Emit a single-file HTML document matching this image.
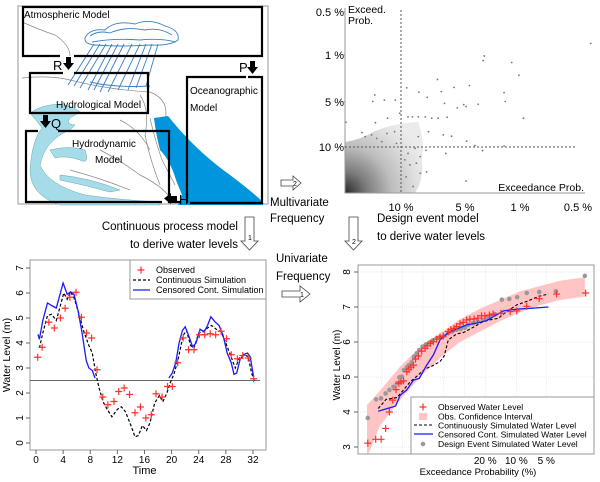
<!DOCTYPE html>
<html><head><meta charset="utf-8">
<style>
html,body{margin:0;padding:0;background:#fff;}
svg{display:block;font-family:"Liberation Sans",sans-serif;}
</style></head>
<body>
<svg id="fig" width="600" height="482" viewBox="0 0 600 482" xmlns="http://www.w3.org/2000/svg">
<defs>
<clipPath id="clipL"><rect x="30" y="260" width="236" height="190"/></clipPath>
<clipPath id="clipR"><rect x="358" y="265" width="236" height="189"/></clipPath>
<radialGradient id="dens" cx="345" cy="193" r="85" gradientUnits="userSpaceOnUse">
<stop offset="0" stop-color="#2a2a2a"/><stop offset="0.25" stop-color="#7a7a7a"/><stop offset="0.55" stop-color="#bdbdbd"/><stop offset="0.85" stop-color="#e0e0e0"/><stop offset="1" stop-color="#ebebeb"/>
</radialGradient>
</defs>

<!-- ===== Top-left model diagram ===== -->
<g>
<rect x="18" y="6" width="250" height="198" fill="#fff" stroke="#999" stroke-width="1"/>
<g fill="none" stroke="#888" stroke-width="0.7">
<path d="M22,22 Q40,30 55,35 Q70,45 70,56"/>
<path d="M22,78 Q50,75 70,80 Q110,90 150,92 Q170,100 165,120"/>
<path d="M140,95 Q150,110 145,135 Q150,160 160,185"/>
<path d="M150,118 Q155,140 162,160 Q170,175 175,185"/>
<path d="M100,150 Q120,160 140,175 Q160,185 168,195"/>
<path d="M120,120 Q140,130 150,150"/>
<path d="M70,170 Q100,178 130,190"/>
</g>
<path fill="#a6dcea" stroke="#6aa" stroke-width="0.5" d="M30,113 Q40,105 60,104 Q75,107 80,112 L70,118 Q65,124 75,125 L70,130 Q45,140 40,165 Q48,185 85,195 Q120,200 160,202 L160,205 L60,205 Q30,195 30,170 Q32,140 42,128 Q36,120 30,113 Z"/>
<path fill="#a6dcea" stroke="#6aa" stroke-width="0.5" d="M50,150 Q70,145 85,150 Q90,165 80,160 Q65,155 55,158 Z"/>
<path fill="#a6dcea" stroke="#6aa" stroke-width="0.5" d="M60,175 Q90,178 120,190 L110,192 Q85,185 60,180 Z"/>
<path fill="#0095dd" d="M154,118 L168,116 Q195,150 230,175 Q250,190 263,202 L263,205 L178,205 L182,195 L176,180 Q170,160 160,150 Q156,135 154,118 Z"/>
<g fill="none" stroke="#3b7fc4" stroke-width="0.9">
<path d="M85,38 Q90,28 105,30 Q115,20 135,24 Q150,18 165,26 Q180,30 178,40 Q170,46 150,45 Q120,47 95,45 Q84,44 85,38 Z"/>
<path d="M90,36 Q98,30 110,33 Q125,26 145,30 Q160,27 172,35"/>
<path d="M92,42 Q115,38 140,40 Q160,38 176,42"/>
<path d="M94,44 L68,85 M100,44 L74,86 M106,44 L80,88 M112,44 L88,90 M118,44 L94,90 M124,44 L100,92 M132,44 L108,92 M140,44 L118,90 M146,44 L128,90 M152,44 L136,88 M158,44 L146,86"/>
<path d="M90,82 Q115,88 150,86"/>
</g>
<g fill="none" stroke="#000" stroke-width="2.2">
<path d="M60,56 L23,56 L23,7 L262,7 L262,56 L74,56"/>
<path d="M63,73 L30,73 L30,113 L148,113 L148,73 L74,73"/>
<path d="M38,131 L26,131 L26,202 L162,202 M180,202 L169,202 L169,131 L58,131"/>
<path d="M248,77 L262,77 L262,203 L190,203 M187,203 L187,77 L246,77"/>
</g>
<g fill="#000">
<path d="M66,57 h5 v6 h3 l-5.5,7 l-5.5,-7 h3 z"/>
<path d="M250,61 h5 v6 h3 l-5.5,7 l-5.5,-7 h3 z"/>
<path d="M43,115 h5 v6 h3 l-5.5,7 l-5.5,-7 h3 z"/>
<path d="M177,196 v5 h-6 v3 l-7,-5.5 l7,-5.5 v3 z"/>
</g>
<g font-size="10" fill="#000">
<text x="24" y="18">Atmospheric Model</text>
<text x="53" y="70" font-size="13">R</text>
<text x="239" y="72" font-size="13">P</text>
<text x="56" y="108">Hydrological Model</text>
<text x="51" y="128" font-size="13">Q</text>
<text x="72" y="147">Hydrodynamic</text>
<text x="95" y="163">Model</text>
<text x="190" y="94">Oceanographic</text>
<text x="190" y="111">Model</text>
<text x="179" y="204" font-size="13">H</text>
</g>
</g>

<!-- ===== connecting text & hollow arrows ===== -->
<g font-size="11.5" fill="#000">
<text x="270" y="206">Multivariate</text>
<text x="270" y="222">Frequency</text>
<text x="238" y="230" text-anchor="end">Continuous process model</text>
<text x="238" y="248" text-anchor="end">to derive water levels</text>
<text x="377" y="222">Design event model</text>
<text x="377" y="240">to derive water levels</text>
<text x="276" y="262">Univariate</text>
<text x="276" y="280">Frequency</text>
<g fill="#fff" stroke="#444" stroke-width="0.8">
<path d="M281,180 h12 v-4 l8,7 l-8,7 v-4 h-12 z"/>
<path d="M245,217 h9 v24 h4 l-8.5,9 l-8.5,-9 h4 z"/>
<path d="M349,217 h9 v24 h4 l-8.5,9 l-8.5,-9 h4 z"/>
<path d="M282,291 h18 v-5 l10,8 l-10,8 v-5 h-18 z"/>
</g>
<g font-size="7" fill="#000"><text x="293" y="186">2</text><text x="248" y="240">1</text><text x="352" y="244">2</text><text x="300" y="297">1</text></g>
</g>

<!-- ===== scatter (top-right) ===== -->
<g id="scatter">
<path fill="url(#dens)" d="M345,142 Q360,140 375,131 Q395,123 418,122 Q425,140 422,160 Q424,180 415,193 L345,193 Z"/>
</g>

<!-- ===== time series (bottom-left) ===== -->
<g id="ts"></g>
<!-- ===== frequency curve (bottom-right) ===== -->
<g id="fc"></g>
</svg>

<script>
// ---------- scatter data (in tick-index units of exceedance scale) ----------
const scX=[3.22,1.35,1.33,1.85,1.98,0.57,1.08,0.09,0.83,0.63,0.28,0.41,1.71,1.73,-0.41,-0.26,-0.09,-0.44,0.68,0.88,0.98,1.24,1.02,0.11,-0.02,0.18,0.27,0.38,0.48,0.58,0.72,-0.21,-0.40,2.06,-0.61,-0.56,-0.46,-0.38,-0.30,-0.22,-0.10,-0.07,0.27,0.43,0.66,0.79,1.03,1.18,1.32,1.71,0.70,0.22,0.11,0.06,0.14,0.30,0.40,0.08,0.19,1.02,0.30,0.39,0.24,-0.86];
const scY=[2.27,1.98,1.88,1.84,1.57,1.48,1.35,1.30,1.31,1.22,1.21,1.10,1.20,1.01,1.15,1.04,1.04,1.01,0.97,0.87,0.94,0.95,0.90,0.67,0.75,0.67,0.67,0.67,0.64,0.64,0.66,0.64,0.54,0.64,0.32,0.23,0.27,0.19,0.12,0.30,0.34,0.08,0.23,0.34,0.27,0.24,0.13,0.03,-0.08,0.02,-0.14,-0.03,-0.14,-0.28,-0.39,-0.57,-0.54,-0.65,-0.86,-0.74,-0.21,-0.07,-0.35,0.55];
const scXTicks=["10 %","5 %","1 %","0.5 %"];
const scYTicks=["10 %","5 %","1 %","0.5 %"];

// ---------- time series data ----------
const obsT=[0.25,0.9,1.9,2.7,3.6,4.3,5.0,5.9,6.7,7.45,8.2,9.0,9.85,10.6,11.5,12.2,13.0,13.8,14.6,15.4,16.2,17.0,17.7,18.6,19.4,20.1,20.9,21.7,22.5,23.3,24.1,24.9,25.7,26.5,27.3,28.1,28.8,29.7,30.5,31.3,32.1];
const obsL=[3.43,3.83,4.83,4.6,5.0,5.39,5.83,6.03,5.03,4.4,4.2,2.93,1.84,1.53,1.66,2.06,2.2,1.94,1.21,1.44,1.0,1.13,1.97,1.84,2.26,2.26,3.21,4.2,3.73,3.73,4.33,4.33,4.37,4.33,4.47,4.17,3.53,3.37,3.5,3.4,2.57];
const contT=[0.5,1,1.7,2.3,3,3.6,4.1,4.6,5.1,5.6,6.3,7,7.8,8.3,8.8,9.3,9.9,10.5,11.2,12.0,12.6,13.2,14.0,14.6,15.1,15.7,16.3,16.8,17.5,18.2,18.7,19.3,19.8,20.4,21.0,21.7,22.2,22.8,23.3,24.0,24.6,25.3,25.9,26.6,27.3,28.0,28.7,29.4,30.0,30.7,31.3,31.8,32.3];
const contL=[3.8,4.4,5.1,5.15,4.9,5.5,6.0,5.75,6.05,5.8,5.2,4.5,3.9,3.6,2.8,2.2,1.65,1.35,1.05,1.35,1.45,1.25,0.7,0.25,0.3,0.7,0.5,0.8,1.6,1.9,1.65,2.0,2.4,2.8,3.4,4.3,4.5,3.9,3.8,4.4,4.45,4.6,4.7,4.55,4.45,4.0,3.5,3.0,3.4,3.55,3.45,2.8,2.4];
const censT=[0.3,0.5,1,1.7,2.3,3,3.5,4.0,4.6,5.1,5.6,6.2,6.8,7.4,7.8,8.3,8.7,null,19.6,20.1,20.6,21.1,21.6,22.0,22.5,23.1,23.6,24.2,24.8,25.3,25.8,26.4,27.0,27.6,28.2,28.8,29.2,29.6,30.1,30.7,31.2,31.6,32.1];
const censL=[4.35,4.15,4.9,5.6,5.5,5.4,5.9,6.4,5.95,6.05,5.95,5.3,4.4,3.3,3.0,2.9,2.6,null,2.6,2.8,3.2,4.0,4.5,4.65,4.3,3.85,4.0,4.55,4.45,4.7,5.05,4.85,4.7,4.3,3.6,3.2,2.75,2.8,3.35,3.55,3.6,3.45,2.65];
const censorLevel=2.5;
const tsXTicks=[0,4,8,12,16,20,24,28,32];
const tsYTicks=[0,1,2,3,4,5,6,7];

// ---------- frequency curve data (x = Gumbel reduced variate) ----------
const fObsU=[-1.33,-1.14,-1.01,-0.90,-0.81,-0.73,-0.65,-0.58,-0.53,-0.47,-0.39,-0.34,-0.29,-0.23,-0.18,-0.11,-0.03,0.05,0.10,0.18,0.25,0.33,0.41,0.49,0.61,0.67,0.75,0.81,0.89,0.97,1.05,1.13,1.23,1.32,1.41,1.49,1.60,1.69,1.88,2.10,2.26,2.50,2.80,3.22,3.92];
const fObsL=[3.11,3.22,3.22,3.53,4.00,4.34,4.64,4.82,4.86,4.89,5.15,5.22,5.28,5.34,5.51,5.60,5.74,5.82,5.89,5.96,6.01,6.08,6.14,6.17,6.30,6.35,6.39,6.44,6.52,6.56,6.63,6.65,6.66,6.68,6.75,6.75,6.77,6.80,6.82,6.87,6.89,7.02,7.24,7.37,7.40];
const fDesU=[-1.33,-1.13,-1.01,-0.90,-0.81,-0.71,-0.63,-0.57,-0.51,-0.46,-0.39,-0.34,-0.27,-0.22,-0.15,-0.09,-0.01,0.07,0.15,0.23,0.33,0.41,0.51,0.61,0.71,0.81,0.91,1.01,1.09,1.21,1.32,1.44,1.53,1.63,1.73,1.90,2.08,2.27,2.50,2.80,3.20,3.90];
const fDesL=[3.83,4.36,4.39,4.53,4.63,4.72,4.82,4.99,5.01,5.20,5.28,5.34,5.42,5.58,5.68,5.77,5.87,5.93,5.98,6.04,6.11,6.14,6.17,6.25,6.30,6.35,6.37,6.41,6.49,6.54,6.59,6.63,6.68,6.73,6.80,7.21,7.23,7.28,7.40,7.43,7.45,7.89];
const fContU=[-1.08,-0.89,-0.63,-0.47,-0.31,-0.14,0.05,0.21,0.41,0.51,0.61,0.81,0.97,1.21,1.41,1.61,1.82,2.02,2.26,2.50,2.78,3.02];
const fContL=[4.10,4.36,4.41,4.63,4.86,5.03,5.23,5.31,5.44,5.60,6.06,6.23,6.27,6.42,6.56,6.63,6.68,6.87,7.06,7.16,7.30,7.37];
const fCensU=[-1.08,-0.86,-0.66,-0.55,-0.39,-0.23,-0.09,0.09,0.25,0.41,0.61,0.85,1.05,1.29,1.53,1.78,1.94,2.26,2.66,3.02];
const fCensL=[4.02,4.10,4.17,4.48,4.63,4.91,4.96,5.34,5.63,6.06,6.27,6.39,6.49,6.54,6.61,6.78,6.89,6.94,6.97,7.00];
const bandU=[-1.35,-1.04,-0.55,-0.07,0.41,0.89,1.37,1.86,2.34,2.82,3.30,3.90];
const bandUpper=[4.2,4.6,5.3,5.85,6.25,6.65,6.95,7.2,7.45,7.6,7.75,7.85];
const bandLower=[2.7,3.6,4.35,5.0,5.55,6.0,6.3,6.6,6.85,7.05,7.2,7.3];
const fProbTicks=[20,10,5];
const fYTicks=[3,4,5,6,7,8];

const NS="http://www.w3.org/2000/svg";
function mk(tag,attrs,parent){const e=document.createElementNS(NS,tag);for(const k in attrs)e.setAttribute(k,attrs[k]);parent.appendChild(e);return e;}
function txt(s,attrs,parent){const e=mk('text',attrs,parent);e.textContent=s;return e;}
function plus(x,y,c,parent,r){return mk('path',{d:`M${x-r},${y}h${2*r}M${x},${y-r}v${2*r}`,stroke:c,'stroke-width':1.2,fill:'none'},parent);}

// ===== scatter =====
(function(){
  const g=document.getElementById('scatter');
  function sx(v){ if(v<=1) return 401+v*64; if(v<=2) return 465+(v-1)*55; return 520+(v-2)*58; }
  function sy(v){ if(v<=0) return 147+(-v)*46; if(v<=1) return 147-v*45; if(v<=2) return 102-(v-1)*47; return 55-(v-2)*43; }
  for(let i=0;i<scX.length;i++){
    const c=mk('circle',{cx:sx(scX[i]),cy:sy(scY[i]),r:0.9,fill:'#777'},g);
    
    
  }
  const ax=mk('path',{d:'M345,8 V193 H585',stroke:'#999',fill:'none','stroke-width':1},g);
   
  const v=mk('line',{x1:sx(0),y1:10,x2:sx(0),y2:193,stroke:'#555','stroke-dasharray':'2,2','stroke-width':1},g);
   
  const h=mk('line',{x1:345,y1:sy(0),x2:575,y2:sy(0),stroke:'#555','stroke-dasharray':'2,2','stroke-width':1},g);
   
  scXTicks.forEach((s,i)=>{const t=txt(s,{x:sx(i),y:211,'font-size':11,'text-anchor':'middle'},g);
     });
  scYTicks.forEach((s,i)=>{const t=txt(s,{x:344,y:sy(i)+4,'font-size':11,'text-anchor':'end'},g);
     
    mk('line',{x1:343,y1:sy(i),x2:345,y2:sy(i),stroke:'#999'},g);});
  let t=txt('Exceed.',{x:348,y:13,'font-size':10.5},g);  
  t=txt('Prob.',{x:348,y:24,'font-size':10.5},g);  
  t=txt('Exceedance Prob.',{x:584,y:191,'font-size':10.5,'text-anchor':'end'},g);  
})();

// ===== time series =====
(function(){
  const g=document.getElementById('ts');
  const X=t=>36+t*6.78, Y=l=>443-l*25;
  const box=mk('rect',{x:30,y:260,width:236,height:190,fill:'none',stroke:'#999'},g);
   
  tsXTicks.forEach(v=>{mk('line',{x1:X(v),y1:450,x2:X(v),y2:454,stroke:'#666'},g);
    const t=txt(String(v),{x:X(v),y:463,'font-size':10,'text-anchor':'middle'},g);
     });
  tsYTicks.forEach(v=>{mk('line',{x1:26,y1:Y(v),x2:30,y2:Y(v),stroke:'#666'},g);
    const t=txt(String(v),{x:23,y:Y(v),'font-size':10,'text-anchor':'middle',transform:`rotate(-90 23 ${Y(v)})`},g);
     });
  let t=txt('Time',{x:X(16),y:474,'font-size':11,'text-anchor':'middle'},g);  
  t=txt('Water Level (m)',{x:10,y:355,'font-size':10.5,'text-anchor':'middle',transform:'rotate(-90 10 355)'},g);  
  const cl=mk('line',{x1:30,y1:Y(censorLevel),x2:260,y2:Y(censorLevel),stroke:'#666','stroke-width':1},g);
   
  const pg=mk('g',{'clip-path':'url(#clipL)'},g);
  let d=contT.map((v,i)=>(i?'L':'M')+X(v).toFixed(1)+','+Y(contL[i]).toFixed(1)).join('');
  const cp=mk('path',{d:d,fill:'none',stroke:'#000','stroke-width':1.2,'stroke-dasharray':'3,2'},pg);
   
  d='';let pen=false;censT.forEach((v,i)=>{if(v===null){pen=false;return;}d+=(pen?'L':'M')+X(v).toFixed(1)+','+Y(censL[i]).toFixed(1);pen=true;});
  const bp=mk('path',{d:d,fill:'none',stroke:'#1a1aff','stroke-width':1.3},pg);
   
  obsT.forEach((v,i)=>{const p=plus(X(v),Y(obsL[i]),'#ff3030',pg,3.5);
     });
  const lg=mk('g',{},g);  
  mk('rect',{x:130,y:260,width:136,height:39,fill:'#fff',stroke:'#999'},lg);
  plus(141,270,'#ff3030',lg,3.5);
  mk('line',{x1:133,y1:280,x2:150,y2:280,stroke:'#000','stroke-dasharray':'3,2','stroke-width':1.2},lg);
  mk('line',{x1:133,y1:290,x2:150,y2:290,stroke:'#1a1aff','stroke-width':1.3},lg);
  [['Observed',273],['Continuous Simulation',283],['Censored Cont. Simulation',293]].forEach(a=>{
    const e=txt(a[0],{x:156,y:a[1],'font-size':9},lg);
     });
})();

// ===== frequency curve =====
(function(){
  const g=document.getElementById('fc');
  const X=u=>423+u*41.5, Y=l=>447-(l-3)*35;
  const gu=p=>-Math.log(-Math.log(1-p/100));
  const grid=mk('g',{stroke:'#e4e4e4','stroke-width':0.7,'stroke-dasharray':'1,1'},g);
  fYTicks.forEach(v=>mk('line',{x1:358,y1:Y(v),x2:594,y2:Y(v)},grid));
  [-1,-0.5,0,0.5,1,1.5,2.25,2.97].forEach(u=>mk('line',{x1:X(u),y1:265,x2:X(u),y2:454},grid));
  const pg=mk('g',{'clip-path':'url(#clipR)'},g);
  let d=bandU.map((u,i)=>(i?'L':'M')+X(u).toFixed(1)+','+Y(bandUpper[i]).toFixed(1)).join('');
  for(let i=bandU.length-1;i>=0;i--) d+='L'+X(bandU[i]).toFixed(1)+','+Y(bandLower[i]).toFixed(1);
  const band=mk('path',{d:d+'Z',fill:'#ffc4c4',stroke:'none'},pg);
   
  fDesU.forEach((u,i)=>{const c=mk('circle',{cx:X(u),cy:Y(fDesL[i]),r:2.3,fill:'#999'},pg);
     });
  d=fContU.map((u,i)=>(i?'L':'M')+X(u).toFixed(1)+','+Y(fContL[i]).toFixed(1)).join('');
  const cp=mk('path',{d:d,fill:'none',stroke:'#000','stroke-width':1.1,'stroke-dasharray':'3,2'},pg);
   
  d=fCensU.map((u,i)=>(i?'L':'M')+X(u).toFixed(1)+','+Y(fCensL[i]).toFixed(1)).join('');
  const bp=mk('path',{d:d,fill:'none',stroke:'#1a1aff','stroke-width':1.3},pg);
   
  fObsU.forEach((u,i)=>{const p=plus(X(u),Y(fObsL[i]),'#ff3030',pg,3.5);
     });
  const box=mk('rect',{x:358,y:265,width:236,height:189,fill:'none',stroke:'#999'},g);
   
  fYTicks.forEach(v=>{mk('line',{x1:354,y1:Y(v),x2:358,y2:Y(v),stroke:'#666'},g);
    const t=txt(String(v),{x:350,y:Y(v),'font-size':10,'text-anchor':'middle',transform:`rotate(-90 350 ${Y(v)})`},g);
     });
  fProbTicks.forEach(p=>{const t=txt(p+' %',{x:X(gu(p)),y:464,'font-size':10,'text-anchor':'middle'},g);
     });
  let t=txt('Exceedance Probability (%)',{x:478,y:475,'font-size':9.5,'text-anchor':'middle'},g);  
  t=txt('Water Level (m)',{x:340,y:365,'font-size':10,'text-anchor':'middle',transform:'rotate(-90 340 365)'},g);  
  const lg=mk('g',{},g);  
  mk('rect',{x:411,y:397,width:183,height:57,fill:'#fff',stroke:'#999'},lg);
  plus(423,407,'#ff3030',lg,3.5);
  mk('rect',{x:419,y:413,width:8,height:7,fill:'#ffc4c4'},lg);
  mk('line',{x1:414,y1:425,x2:433,y2:425,stroke:'#000','stroke-dasharray':'3,2','stroke-width':1.1},lg);
  mk('line',{x1:414,y1:434,x2:433,y2:434,stroke:'#1a1aff','stroke-width':1.3},lg);
  mk('circle',{cx:423,cy:444,r:2.3,fill:'#999'},lg);
  [['Observed Water Level',410],['Obs. Confidence Interval',419.5],['Continuously Simulated Water Level',428.5],['Censored Cont. Simulated Water Level',437.5],['Design Event Simulated Water Level',447]].forEach(a=>{
    const e=txt(a[0],{x:438,y:a[1],'font-size':8.6},lg);
     });
})();
</script>
</body></html>
